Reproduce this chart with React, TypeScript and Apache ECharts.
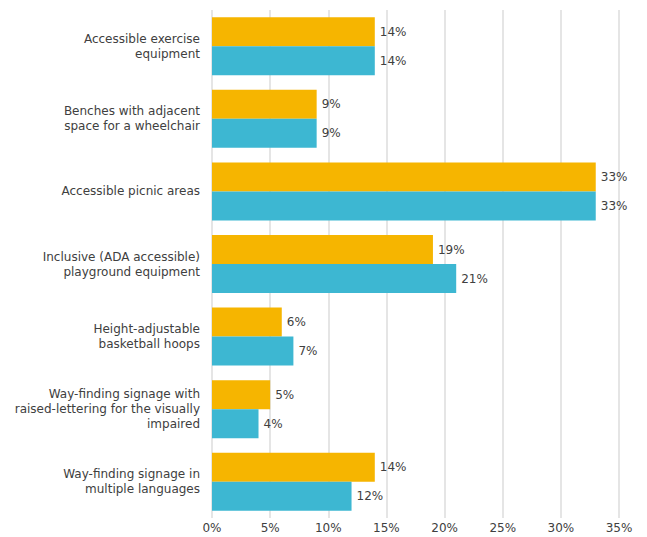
import React, { useEffect, useRef } from "react";
import * as echarts from "echarts";

const categories = [
  "Accessible exercise\nequipment",
  "Benches with adjacent\nspace for a wheelchair",
  "Accessible picnic areas",
  "Inclusive (ADA accessible)\nplayground equipment",
  "Height-adjustable\nbasketball hoops",
  "Way-finding signage with\nraised-lettering for the visually\nimpaired",
  "Way-finding signage in\nmultiple languages",
];
const seriesA = [14, 9, 33, 19, 6, 5, 14];
const seriesB = [14, 9, 33, 21, 7, 4, 12];

export default function App() {
  const ref = useRef<HTMLDivElement>(null);
  useEffect(() => {
    if (!ref.current) return;
    const chart = echarts.init(ref.current, undefined, { renderer: "svg" });
    const font = "'DejaVu Sans', sans-serif";
    const labelCfg = {
      show: true,
      position: "right" as const,
      distance: 5,
      color: "#404040",
      fontSize: 12,
      fontFamily: font,
      formatter: (p: any) => p.value + "%",
    };
    chart.setOption({
      animation: false,
      backgroundColor: "#ffffff",
      grid: { left: 212, right: 28, top: 10, bottom: 19, containLabel: false },
      xAxis: {
        type: "value",
        min: 0,
        max: 35,
        interval: 5,
        axisLine: { show: false },
        axisTick: { show: false },
        splitLine: { show: true, lineStyle: { color: "#dcdcdc", width: 1.5 } },
        axisLabel: {
          formatter: (v: number) => v + "%",
          color: "#404040",
          fontSize: 12,
          fontFamily: font,
          margin: 4,
        },
      },
      yAxis: {
        type: "category",
        data: categories,
        inverse: true,
        axisLine: { show: false },
        axisTick: { show: false },
        axisLabel: {
          color: "#404040",
          fontSize: 12,
          fontFamily: font,
          margin: 12,
          lineHeight: 15,
          align: "right",
        },
      },
      series: [
        {
          type: "bar",
          data: seriesA,
          barWidth: 29,
          barGap: "0%",
          itemStyle: { color: "#F6B500" },
          label: labelCfg,
        },
        {
          type: "bar",
          data: seriesB,
          barWidth: 29,
          barGap: "0%",
          itemStyle: { color: "#3DB7D2" },
          label: labelCfg,
        },
      ],
    });
    return () => chart.dispose();
  }, []);
  return (
    <div
      ref={ref}
      style={{ position: "fixed", left: 0, top: 0, width: 647, height: 537 }}
    />
  );
}
